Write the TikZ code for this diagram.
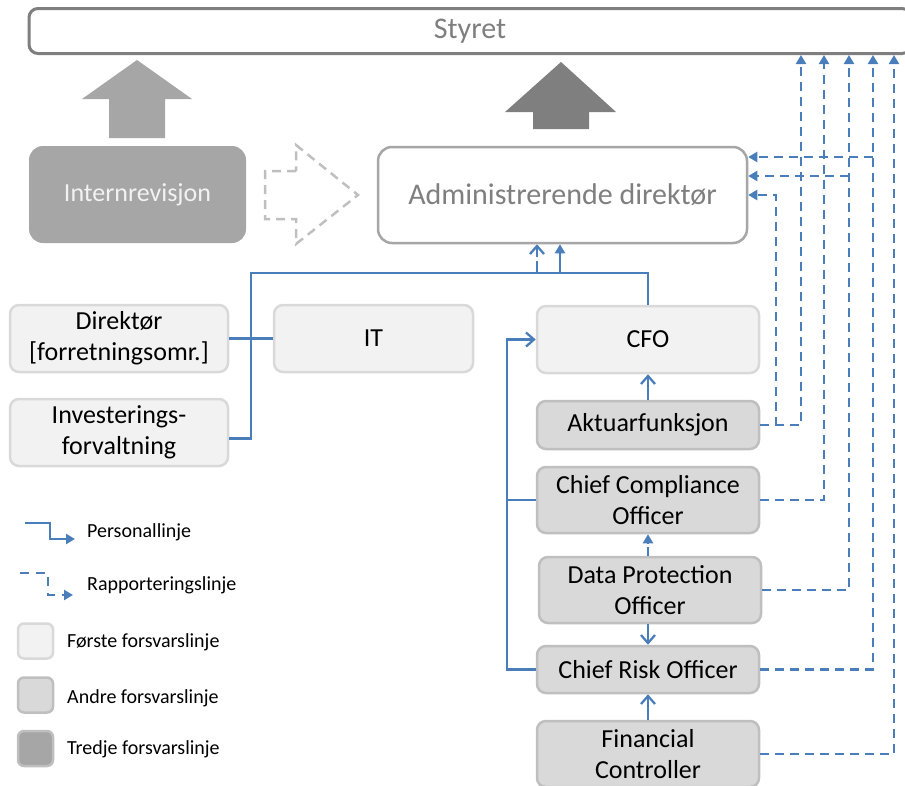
\documentclass[tikz,border=0pt]{standalone}
\usepackage{fontspec}
\setmainfont{Carlito}
\usepackage{tikz}
\usetikzlibrary{positioning,arrows.meta}
\usepackage{xcolor}
\definecolor{pblue}{HTML}{4A7EBB}
\definecolor{fillA}{HTML}{F2F2F2}
\definecolor{lineA}{HTML}{D9D9D9}
\definecolor{fillB}{HTML}{D9D9D9}
\definecolor{lineB}{HTML}{BFBFBF}
\definecolor{fillC}{HTML}{A6A6A6}
\definecolor{darkC}{HTML}{7F7F7F}
\definecolor{boardline}{HTML}{7F7F7F}

\begin{document}
\begin{tikzpicture}[x=1pt,y=-1pt,node distance=20pt,
  box/.style={draw,rounded corners=9pt,line width=2.5pt,align=center,inner sep=0pt,
    minimum width=222pt,minimum height=67pt,font=\fontsize{26}{31}\selectfont},
  first/.style={box,draw=lineA,fill=fillA},
  second/.style={box,draw=lineB,fill=fillB},
  keytext/.style={anchor=west,inner sep=0pt,font=\fontsize{20}{22}\selectfont},
  pers/.style={pblue,line width=2.3pt},
  rep/.style={pers,dash pattern=on 9pt off 6pt},
  vtip/.style={-{Straight Barb[length=8pt,width=14pt]}},
  ttip/.style={-{Triangle[length=9pt,width=10pt]}}]
  \useasboundingbox (0,0) rectangle (905,785);

  % board, CEO and internal audit
  \node[draw=boardline,line width=3pt,rounded corners=9pt,minimum width=882pt,minimum height=45pt,
    text=darkC,font=\fontsize{30}{34}\selectfont] (styret) at (470,31) {Styret};
  \node[draw=fillC,fill=white,line width=2.5pt,rounded corners=14pt,minimum width=369pt,minimum height=96pt,
    text=darkC,font=\fontsize{30}{34}\selectfont] (admin) at (562.5,195) {Administrerende direktør};
  \node[fill=fillC,rounded corners=14pt,minimum width=217pt,minimum height=97pt,
    text=fillA,font=\fontsize{26}{30}\selectfont] (intern) at (137.5,194.5) {Internrevisjon};

  \fill[fillC] (109,138) -- (109,99) -- (82,99) -- (137,60) -- (192,99) -- (165,99) -- (165,138) -- cycle;
  \fill[darkC] (533,129) -- (533,112) -- (505,112) -- (561,62) -- (616,112) -- (589,112) -- (589,129) -- cycle;
  \draw[lineB,line width=2.5pt,dash pattern=on 9pt off 6pt]
    (296,171) -- (265,171) -- (265,219) -- (296,219) -- (296,244) -- (358,195) -- (296,145) -- cycle;

  % first line of defence
  \node[first,minimum width=218pt] (dir) at (119,338.5) {Direktør\\{[forretningsomr.]}};
  \node[first,minimum width=199pt,right=43.5pt of dir] (it) {IT};
  \node[first,minimum width=218pt,below=24.5pt of dir] (inv) {Investerings-\\forvaltning};
  \node[first] (cfo) at (648,339.5) {CFO};

  % second line of defence
  \node[second,minimum height=48pt,below=25.5pt of cfo] (akt) {Aktuarfunksjon};
  \node[second,minimum height=66pt,below=15.5pt of akt] (cco) {Chief Compliance\\Officer};
  \node[second,minimum height=66pt,below=21.5pt of cco,xshift=2pt] (dpo) {Data Protection\\Officer};
  \node[second,minimum height=47pt,below=20.5pt of dpo,xshift=-2pt] (cro) {Chief Risk Officer};
  \node[second,minimum height=66pt,below=25.5pt of cro] (fc) {Financial\\Controller};

  % personnel lines
  \coordinate (hub) at (251,273);
  \coordinate (up1) at (537,273);
  \coordinate (up2) at (560,273);
  \draw[pers] (dir.east) -- (it.west);
  \draw[pers] ([yshift=-6pt]inv.east) -| (hub) -- (cfo.north |- hub) -- (cfo.north);
  \draw[pers,ttip] (up2) -- (up2 |- admin.south);
  \draw[rep,dash pattern=on 12pt off 4pt,vtip] (up1) -- (up1 |- admin.south);
  \draw[pers,vtip] (cro.west) -- ++(-29,0) |- (cfo.west);
  \draw[pers] (cco.west) -- ++(-29,0);
  \draw[pers,vtip] (akt.north) -- (cfo.south);
  \draw[rep,dash pattern=on 9pt off 4pt,ttip] (cco.south |- dpo.north) -- (cco.south);
  \draw[pers,vtip] (cro.north |- dpo.south) -- (cro.north);
  \draw[pers,vtip] (fc.north) -- (cro.south);

  % reporting lines
  \coordinate (l0) at (776,0);
  \coordinate (l1) at (801,0);
  \coordinate (l2) at (824,0);
  \coordinate (l3) at (849,0);
  \coordinate (l4) at (873,0);
  \coordinate (l5) at (894,0);
  \draw[rep,ttip] (akt.east) -| (l1 |- styret.south);
  \draw[rep,ttip] (akt.east) -| (l0 |- admin.east) -- (admin.east);
  \draw[rep,ttip] (cco.east) -| (l2 |- styret.south);
  \draw[rep,ttip] (dpo.east) -| (l3 |- styret.south);
  \draw[rep,ttip] ([yshift=19pt]admin.east -| l3) -- ([yshift=19pt]admin.east);
  \draw[rep,ttip] (cro.east) -| (l4 |- styret.south);
  \draw[rep,ttip] ([yshift=38pt]admin.east -| l4) -- ([yshift=38pt]admin.east);
  \draw[rep,ttip] (fc.east) -| (l5 |- styret.south);

  % legend
  \coordinate (kp) at (25,523);
  \coordinate (kr) at (20,573);
  \draw[pers,ttip] (kp) -- ++(25,0) -- ++(0,16) -- ++(25,0);
  \draw[rep,dash pattern=on 9pt off 7pt,ttip] (kr) -- ++(28,0) -- ++(0,22) -- ++(25,0);
  \node[keytext] (kpers) at (87,532) {Personallinje};
  \node[keytext] (krep) at (87,585) {Rapporteringslinje};
  \node[first,minimum size=35pt,rounded corners=6pt] (ka) at (35.5,641) {};
  \node[second,minimum size=35pt,rounded corners=6pt] (kb) at (35.5,695) {};
  \node[box,draw=lineB,fill=fillC,minimum size=35pt,rounded corners=6pt] (kc) at (35.5,748.5) {};
  \node[keytext] (kta) at (67,642) {Første forsvarslinje};
  \node[keytext] (ktb) at (67,698) {Andre forsvarslinje};
  \node[keytext] (ktc) at (67,749) {Tredje forsvarslinje};
\end{tikzpicture}
\end{document}
